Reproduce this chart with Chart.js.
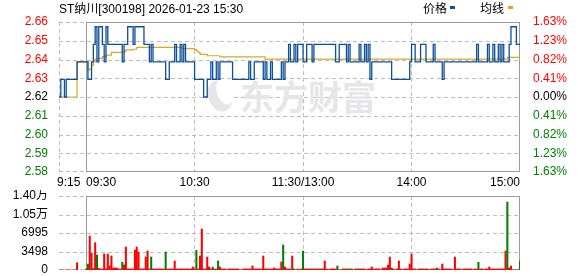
<!DOCTYPE html>
<html>
<head>
<meta charset="utf-8">
<script src="https://cdn.jsdelivr.net/npm/chart.js@4.4.0/dist/chart.umd.min.js"></script>
<style>
  html, body { margin: 0; padding: 0; background: #fff; }
  #wrap { position: relative; width: 578px; height: 276px; }
  #priceChart { position: absolute; left: 0; top: 0; }
  #volChart { position: absolute; left: 0; top: 190px; }
</style>
</head>
<body>
<div id="wrap">
  <canvas id="priceChart" width="578" height="190"></canvas>
  <canvas id="volChart" width="578" height="86"></canvas>
</div>
<script>
// ---- data ----
const stockTitle = 'ST纳川[300198] 2026-01-23 15:30';
const prevClose = 2.62;
const pctLimit = 1.63;
const priceTickLabels = ['2.58', '2.59', '2.60', '2.61', '2.62', '2.63', '2.64', '2.65', '2.66'];
const pctTickLabels = ['1.63%', '1.23%', '0.82%', '0.41%', '0.00%', '0.41%', '0.82%', '1.23%', '1.63%'];
const volMax = 13990;
const volTickLabels = ['0', '3498', '6995', '1.05万', '1.40万'];

// minutes counted from 9:15
const timeTicks = [0, 15, 75, 135, 195, 255];
const timeLabels = ['9:15', '09:30', '10:30', '11:30/13:00', '14:00', '15:00'];
const mainStart = 15;

// 9:15 - 9:25 auction
const preMinutes = [0, 1, 2, 3, 4, 5, 6, 7, 8, 9, 10];
const prePrice = [2.62, 2.63, 2.63, 2.62, 2.63, 2.63, 2.63, 2.63, 2.63, 2.63, 2.64];
const preAvg = [2.62, 2.62, 2.62, 2.62, 2.62, 2.62, 2.62, 2.62, 2.62, 2.62, 2.64];
const preVolume = [0, 0, 0, 0, 0, 0, 0, 0, 0, 0, 1380];

// 9:30 - 15:00, one value per minute
const price = [
  2.64, 2.63, 2.63, 2.64, 2.65, 2.66, 2.64, 2.66, 2.66, 2.65,
  2.64, 2.66, 2.65, 2.65, 2.65, 2.65, 2.65, 2.65, 2.65, 2.65,
  2.64, 2.65, 2.65, 2.66, 2.66, 2.66, 2.65, 2.66, 2.66, 2.66,
  2.66, 2.66, 2.65, 2.65, 2.65, 2.64, 2.65, 2.64, 2.64, 2.64,
  2.64, 2.64, 2.64, 2.64, 2.63, 2.63, 2.64, 2.64, 2.64, 2.65,
  2.64, 2.64, 2.65, 2.64, 2.65, 2.64, 2.64, 2.64, 2.64, 2.64,
  2.63, 2.63, 2.63, 2.63, 2.63, 2.62, 2.62, 2.63, 2.63, 2.64,
  2.63, 2.63, 2.64, 2.63, 2.64, 2.64, 2.64, 2.64, 2.64, 2.64,
  2.64, 2.63, 2.63, 2.63, 2.63, 2.63, 2.63, 2.63, 2.63, 2.63,
  2.64, 2.63, 2.63, 2.64, 2.64, 2.64, 2.64, 2.64, 2.63, 2.64,
  2.63, 2.63, 2.64, 2.63, 2.63, 2.63, 2.63, 2.63, 2.64, 2.63,
  2.64, 2.64, 2.65, 2.64, 2.64, 2.65, 2.64, 2.65, 2.65, 2.65,
  2.64, 2.64, 2.65, 2.65, 2.65, 2.64, 2.65, 2.65, 2.65, 2.65,
  2.65, 2.65, 2.65, 2.65, 2.65, 2.65, 2.65, 2.65, 2.64, 2.64,
  2.65, 2.65, 2.65, 2.65, 2.64, 2.65, 2.64, 2.64, 2.64, 2.64,
  2.64, 2.65, 2.64, 2.64, 2.65, 2.64, 2.65, 2.63, 2.64, 2.64,
  2.64, 2.64, 2.64, 2.64, 2.64, 2.64, 2.64, 2.64, 2.64, 2.63,
  2.63, 2.63, 2.63, 2.63, 2.63, 2.63, 2.63, 2.63, 2.63, 2.64,
  2.65, 2.65, 2.64, 2.64, 2.64, 2.65, 2.65, 2.65, 2.64, 2.64,
  2.64, 2.64, 2.65, 2.64, 2.64, 2.64, 2.64, 2.63, 2.64, 2.64,
  2.64, 2.64, 2.64, 2.64, 2.64, 2.64, 2.64, 2.64, 2.64, 2.64,
  2.64, 2.64, 2.64, 2.64, 2.64, 2.64, 2.65, 2.64, 2.64, 2.64,
  2.64, 2.64, 2.65, 2.64, 2.64, 2.65, 2.64, 2.64, 2.65, 2.64,
  2.65, 2.64, 2.64, 2.64, 2.65, 2.66, 2.66, 2.66, 2.65, 2.65,
  2.65
];

const avgPrice = [
  2.6400, 2.6354, 2.6360, 2.6380, 2.6400, 2.6416, 2.6420, 2.6420, 2.6420, 2.6430,
  2.6430, 2.6439, 2.6439, 2.6439, 2.6454, 2.6454, 2.6454, 2.6454, 2.6454, 2.6454,
  2.6458, 2.6458, 2.6468, 2.6468, 2.6468, 2.6468, 2.6472, 2.6472, 2.6483, 2.6483,
  2.6483, 2.6483, 2.6483, 2.6483, 2.6483, 2.6483, 2.6483, 2.6483, 2.6483, 2.6483,
  2.6483, 2.6483, 2.6483, 2.6483, 2.6483, 2.6483, 2.6483, 2.6483, 2.6483, 2.6483,
  2.6483, 2.6483, 2.6483, 2.6475, 2.6475, 2.6475, 2.6475, 2.6475, 2.6475, 2.6475,
  2.6470, 2.6462, 2.6454, 2.6443, 2.6443, 2.6443, 2.6443, 2.6435, 2.6435, 2.6435,
  2.6435, 2.6435, 2.6435, 2.6435, 2.6428, 2.6428, 2.6428, 2.6428, 2.6428, 2.6428,
  2.6428, 2.6428, 2.6428, 2.6428, 2.6428, 2.6428, 2.6428, 2.6428, 2.6428, 2.6428,
  2.6428, 2.6428, 2.6428, 2.6428, 2.6428, 2.6428, 2.6428, 2.6428, 2.6428, 2.6416,
  2.6416, 2.6416, 2.6416, 2.6416, 2.6416, 2.6416, 2.6416, 2.6416, 2.6416, 2.6416,
  2.6416, 2.6416, 2.6416, 2.6416, 2.6416, 2.6416, 2.6416, 2.6416, 2.6416, 2.6416,
  2.6416, 2.6416, 2.6416, 2.6416, 2.6416, 2.6416, 2.6416, 2.6416, 2.6416, 2.6416,
  2.6416, 2.6416, 2.6416, 2.6416, 2.6416, 2.6416, 2.6416, 2.6416, 2.6416, 2.6416,
  2.6416, 2.6416, 2.6416, 2.6416, 2.6416, 2.6416, 2.6416, 2.6416, 2.6416, 2.6416,
  2.6416, 2.6416, 2.6416, 2.6416, 2.6416, 2.6416, 2.6416, 2.6416, 2.6416, 2.6416,
  2.6416, 2.6416, 2.6416, 2.6416, 2.6416, 2.6416, 2.6416, 2.6416, 2.6416, 2.6416,
  2.6416, 2.6416, 2.6416, 2.6416, 2.6416, 2.6416, 2.6416, 2.6416, 2.6416, 2.6416,
  2.6416, 2.6416, 2.6416, 2.6416, 2.6416, 2.6416, 2.6416, 2.6416, 2.6416, 2.6416,
  2.6416, 2.6416, 2.6416, 2.6416, 2.6416, 2.6416, 2.6416, 2.6416, 2.6416, 2.6416,
  2.6416, 2.6416, 2.6416, 2.6416, 2.6416, 2.6416, 2.6416, 2.6416, 2.6416, 2.6416,
  2.6416, 2.6416, 2.6416, 2.6416, 2.6416, 2.6416, 2.6416, 2.6416, 2.6416, 2.6416,
  2.6416, 2.6416, 2.6416, 2.6416, 2.6416, 2.6416, 2.6416, 2.6416, 2.6416, 2.6416,
  2.6416, 2.6416, 2.6416, 2.6426, 2.6426, 2.6426, 2.6426, 2.6426, 2.6426, 2.6426,
  2.6426
];

const volume = [
  200, 1130, 6430, 3210, 300, 5160, 2830, 300, 200, 200,
  3020, 200, 3020, 760, 2650, 380, 380, 380, 200, 200,
  1450, 950, 4350, 200, 200, 200, 200, 3780, 4350, 3400,
  200, 200, 200, 2460, 3590, 200, 2460, 200, 200, 200,
  200, 200, 200, 200, 3400, 200, 200, 200, 200, 1700,
  200, 200, 200, 200, 200, 200, 200, 200, 200, 570,
  200, 3720, 200, 2650, 7750, 200, 200, 2460, 570, 200,
  570, 200, 200, 1700, 570, 200, 200, 200, 0, 200,
  200, 200, 200, 200, 200, 0, 0, 200, 200, 200,
  200, 200, 760, 200, 200, 200, 200, 200, 2650, 200,
  200, 200, 200, 200, 380, 200, 200, 200, 1510, 4730,
  570, 200, 200, 200, 2650, 200, 0, 200, 0, 200,
  3590, 200, 200, 200, 200, 200, 200, 200, 200, 200,
  200, 200, 1700, 200, 0, 200, 200, 200, 200, 760,
  0, 0, 200, 200, 200, 200, 200, 200, 0, 200,
  200, 200, 200, 200, 200, 0, 200, 200, 570, 200,
  200, 200, 200, 0, 380, 380, 380, 950, 2460, 380,
  200, 0, 200, 1700, 200, 0, 200, 200, 200, 1130,
  3020, 200, 200, 0, 200, 200, 200, 200, 200, 200,
  0, 200, 200, 200, 380, 200, 0, 1130, 200, 200,
  200, 200, 200, 0, 2460, 200, 200, 200, 0, 200,
  200, 200, 200, 200, 0, 200, 200, 1450, 200, 200,
  0, 200, 200, 570, 200, 200, 200, 200, 200, 200,
  200, 200, 3590, 12850, 380, 760, 0, 0, 0, 0,
  1700
];
// minutes (index into volume) whose bar is green
const downMinutes = [1, 6, 20, 36, 44, 61, 70, 73, 109, 115, 120, 125, 130, 139, 144, 147, 151, 169, 188, 194, 217, 233, 240];

// ---- chart ----
const FONT = '"Liberation Sans", "Noto Sans CJK SC", Arial, sans-serif';
const RED = '#ff0000', GREEN = '#008000', BLACK = '#000000';
const BLUE = '#0c4f9e', GOLD = '#dca62a';
Chart.defaults.font.family = FONT;
Chart.defaults.font.size = 12;

const yMax = prevClose * (1 + pctLimit / 100);
const yMin = prevClose * (1 - pctLimit / 100);
function evenTicks(min, max, n) {
  const out = [];
  for (let k = 0; k < n; k++) out.push({ value: min + (max - min) * k / (n - 1) });
  return out;
}
function tickColor(ctx) {
  if (ctx.index > 4) return RED;
  if (ctx.index === 4) return BLACK;
  return GREEN;
}

const pricePoints = preMinutes.map((m, k) => ({ x: m, y: prePrice[k] }))
  .concat(price.map((p, i) => ({ x: mainStart + i, y: p })));
const avgPoints = preMinutes.map((m, k) => ({ x: m, y: preAvg[k] }))
  .concat(avgPrice.map((p, i) => ({ x: mainStart + i, y: p })));
const volPoints = preMinutes.map((m, k) => ({ x: m, y: preVolume[k] }))
  .concat(volume.map((v, i) => ({ x: mainStart + i, y: v })));

const endMinute = timeTicks[timeTicks.length - 1];

// grid (dashed), watermark and the solid box over the trading session
function drawFrame(chart, xGrid, watermark) {
  const { ctx, chartArea: a } = chart;
  const xs = chart.scales.x, ys = chart.scales.y;
  const left = Math.floor(a.left), right = Math.floor(a.right);
  const top = Math.floor(a.top), bottom = Math.floor(a.bottom);
  ctx.save();
  ctx.fillStyle = '#bdbdbd';
  ys.ticks.forEach((tk) => {
    let py = Math.round(ys.getPixelForValue(tk.value));
    if (py >= bottom) py = bottom - 1;
    for (let px = left; px < right; px += 7) ctx.fillRect(px, py, Math.min(4, right - px), 1);
  });
  xGrid.forEach((m) => {
    const px = Math.floor(xs.getPixelForValue(m));
    for (let py = top; py < bottom; py += 7) ctx.fillRect(px, py, 1, Math.min(4, bottom - py));
  });

  if (watermark) {
    ctx.fillStyle = '#e6e6ea';
    ctx.beginPath();
    ctx.ellipse(220, 96, 12, 16, -0.35, 0, Math.PI * 2);
    ctx.fill();
    ctx.fillStyle = '#ffffff';
    ctx.beginPath();
    ctx.ellipse(225, 92, 8, 13, -0.35, 0, Math.PI * 2);
    ctx.fill();
    ctx.fillStyle = '#e6e6ea';
    ctx.font = 'bold 34px "Noto Sans CJK SC", sans-serif';
    ctx.textBaseline = 'alphabetic';
    ctx.textAlign = 'left';
    ctx.fillText('东方财富', 240, 110);
  }

  const l = Math.round(xs.getPixelForValue(mainStart)) + 0.5;
  const r = Math.round(xs.getPixelForValue(endMinute)) - 0.5;
  ctx.strokeStyle = '#9a9a9a';
  ctx.lineWidth = 1;
  ctx.strokeRect(l, top + 0.5, r - l, bottom - top - 1);
  ctx.restore();
}

const priceFrame = {
  id: 'priceFrame',
  beforeDatasetsDraw(chart) { drawFrame(chart, [0, 75, 135, 195], true); }
};
const volFrame = {
  id: 'volFrame',
  beforeDatasetsDraw(chart) { drawFrame(chart, [75, 135, 195], false); }
};

// title, legend and time labels
const textPlugin = {
  id: 'texts',
  afterDraw(chart) {
    const { ctx, chartArea: a } = chart;
    const xs = chart.scales.x;
    ctx.save();
    ctx.font = '12px ' + FONT;
    ctx.fillStyle = BLACK;
    ctx.textBaseline = 'alphabetic';
    ctx.textAlign = 'left';
    ctx.fillText(stockTitle, 59, 13);

    // legend
    ctx.fillText('价格', 423, 13);
    ctx.fillStyle = BLUE;
    ctx.fillRect(450, 6, 5, 3);
    ctx.fillStyle = BLACK;
    ctx.fillText('均线', 480, 13);
    ctx.fillStyle = GOLD;
    ctx.fillRect(508, 6, 5, 3);

    ctx.fillStyle = BLACK;
    const ly = a.bottom + 14;
    timeTicks.forEach((m, k) => {
      const px = xs.getPixelForValue(m);
      if (k === 0) { ctx.textAlign = 'left'; ctx.fillText(timeLabels[k], px - 2, ly); }
      else if (k === 1) { ctx.textAlign = 'left'; ctx.fillText(timeLabels[k], px, ly); }
      else if (k === timeTicks.length - 1) { ctx.textAlign = 'right'; ctx.fillText(timeLabels[k], px, ly); }
      else { ctx.textAlign = 'center'; ctx.fillText(timeLabels[k], px, ly); }
    });
    ctx.restore();
  }
};

new Chart(document.getElementById('priceChart'), {
  type: 'line',
  data: {
    datasets: [
      {
        label: '价格',
        data: pricePoints,
        borderColor: BLUE,
        borderWidth: 1.3,
        pointRadius: 0,
        stepped: true,
        fill: false,
        order: 0
      },
      {
        label: '均线',
        data: avgPoints,
        borderColor: GOLD,
        borderWidth: 1.2,
        pointRadius: 0,
        stepped: true,
        fill: false,
        order: 1
      }
    ]
  },
  options: {
    responsive: false,
    animation: false,
    devicePixelRatio: 1,
    layout: { padding: { top: 22, left: 0, right: 0, bottom: 0 } },
    plugins: { legend: { display: false }, tooltip: { enabled: false } },
    scales: {
      x: {
        type: 'linear',
        min: 0,
        max: endMinute,
        afterFit: (s) => { s.height = 18; },
        ticks: { display: false },
        grid: { display: false },
        border: { display: false }
      },
      y: {
        position: 'left',
        min: yMin,
        max: yMax,
        afterBuildTicks: (s) => { s.ticks = evenTicks(yMin, yMax, priceTickLabels.length); },
        afterFit: (s) => { s.width = 59; },
        ticks: {
          autoSkip: false,
          padding: 3,
          color: tickColor,
          callback: (v, i) => priceTickLabels[i]
        },
        grid: { display: false },
        border: { display: false }
      },
      y2: {
        position: 'right',
        min: yMin,
        max: yMax,
        afterBuildTicks: (s) => { s.ticks = evenTicks(yMin, yMax, pctTickLabels.length); },
        afterFit: (s) => { s.width = 58; },
        ticks: {
          autoSkip: false,
          padding: 5,
          color: tickColor,
          callback: (v, i) => pctTickLabels[i]
        },
        grid: { display: false },
        border: { display: false }
      }
    }
  },
  plugins: [priceFrame, textPlugin]
});

new Chart(document.getElementById('volChart'), {
  type: 'bar',
  data: {
    datasets: [{
      label: '成交量',
      data: volPoints,
      barThickness: 1.4,
      backgroundColor: (ctx) => {
        const i = ctx.dataIndex - preMinutes.length;
        return i >= 0 && downMinutes.includes(i) ? GREEN : RED;
      }
    }]
  },
  options: {
    responsive: false,
    animation: false,
    devicePixelRatio: 1,
    layout: { padding: { top: 6, left: 0, right: 58, bottom: 6 } },
    plugins: { legend: { display: false }, tooltip: { enabled: false } },
    scales: {
      x: {
        type: 'linear',
        min: 0,
        max: endMinute,
        offset: false,
        afterFit: (s) => { s.height = 0; },
        ticks: { display: false },
        grid: { display: false },
        border: { display: false }
      },
      y: {
        position: 'left',
        min: 0,
        max: volMax,
        afterBuildTicks: (s) => { s.ticks = evenTicks(0, volMax, volTickLabels.length); },
        afterFit: (s) => { s.width = 59; s.paddingTop = 0; s.paddingBottom = 0; },
        ticks: {
          autoSkip: false,
          padding: 3,
          color: BLACK,
          callback: (v, i) => volTickLabels[i]
        },
        grid: { display: false },
        border: { display: false }
      }
    }
  },
  plugins: [volFrame]
});
</script>
</body>
</html>
